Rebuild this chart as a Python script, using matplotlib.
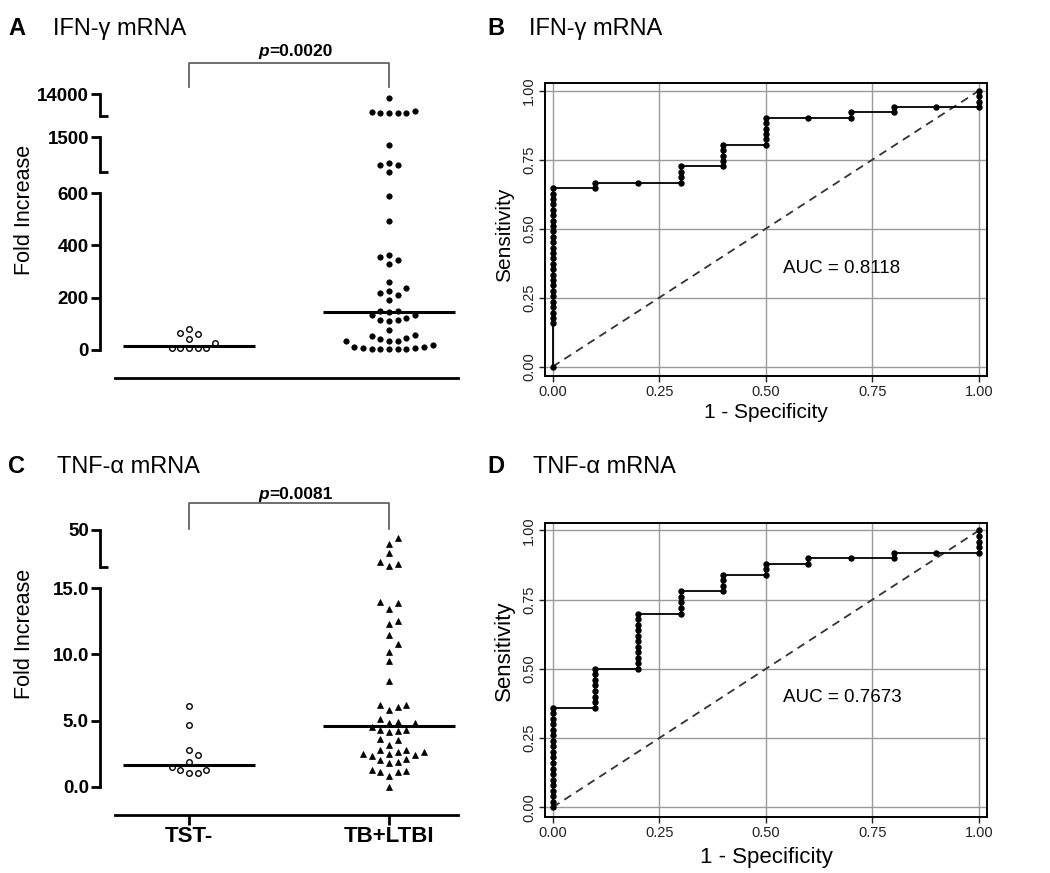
import numpy as np
import matplotlib
matplotlib.use("Agg")
import matplotlib.pyplot as plt
from matplotlib import rcParams
from matplotlib.ticker import FixedLocator, NullLocator
from matplotlib.transforms import blended_transform_factory

rcParams["font.family"] = ["Liberation Sans", "DejaVu Sans"]

# ---- data ----
groups = ["TST-", "TB+LTBI"]

# IFN-gamma fold increase (panel A)
ifn_tst = [79, 64, 61, 41, 28, 6, 6, 6, 6, 6]
ifn_tb = [11660, 4250, 2900, 2900, 2900, 2900, 3500,
          1294, 831, 788, 788, 608,
          587, 492, 362, 354, 344, 327, 259, 238, 225, 217, 211, 191,
          149, 149, 145, 134, 134, 122, 113, 113, 111, 76,
          57, 53, 47, 41, 36,
          34, 13, 9, 5, 5, 5, 5, 5, 9, 10, 18, 36]
ifn_median = [17, 146]

# TNF-alpha fold increase (panel C)
tnf_tst = [6.1, 4.7, 2.8, 2.4, 1.9, 1.5, 1.3, 1.3, 1.05, 1.05]
tnf_tb = [42.0, 36.3, 27.7, 19.8, 17.6, 15.7,
          14.0, 13.9, 13.4, 12.5, 12.3, 11.5, 10.8, 10.2, 9.5, 8.0,
          6.2, 6.2, 6.0, 5.8, 5.1, 4.9, 4.8, 4.8,
          4.5, 4.3, 4.3, 4.2, 4.1, 3.6, 3.5, 3.15,
          2.8, 2.8, 2.6, 2.6, 2.5, 2.5, 2.4,
          2.3, 2.1, 2.0, 1.9, 1.8,
          1.3, 1.2, 1.1, 1.1, 0.8, 0.0]
tnf_median = [1.65, 4.6]

# ROC curves: false positive rate columns and true positive counts at each step
roc_fpr_cols = [0.0, 0.1, 0.2, 0.3, 0.4, 0.5, 0.6, 0.7, 0.8, 0.9, 1.0]
ifn_roc_tp = [[0, 8, 9, 10, 11, 12, 13, 14, 15, 16, 17, 18, 19, 20, 21, 22,
               23, 24, 25, 26, 27, 28, 29, 30, 31, 32, 33],
              [33, 34], [34], [34, 35, 36, 37], [37, 38, 39, 40, 41],
              [41, 42, 43, 44, 45, 46], [46], [46, 47], [47, 48], [48],
              [48, 49, 50, 51]]
ifn_n_pos = 51
ifn_auc = "AUC = 0.8118"

tnf_roc_tp = [[0, 1, 2, 3, 4, 5, 6, 7, 8, 9, 10, 11, 12, 13, 14, 15, 16, 17, 18],
              [18, 19, 20, 21, 22, 23, 24, 25],
              [25, 26, 27, 28, 29, 30, 31, 32, 33, 34, 35],
              [35, 36, 37, 38, 39], [39, 40, 41, 42], [42, 43, 44],
              [44, 45], [45], [45, 46], [46], [46, 47, 48, 49, 50]]
tnf_n_pos = 50
tnf_auc = "AUC = 0.7673"

# ---- figure in pixel layout ----
W, H = 1050, 873
fig = plt.figure(figsize=(W / 100, H / 100), dpi=100)


def px_axes(left, top, right, bottom):
    return fig.add_axes([left / W, 1 - bottom / H, (right - left) / W, (bottom - top) / H])


def fig_y(py):
    return 1 - py / H


def swarm(ax, center, vals, step=8.7, dmin=8.0):
    # greedy beeswarm in display pixels, slots at whole steps around the centre
    vals = np.asarray(vals, dtype=float)
    pts = ax.transData.transform(np.column_stack([np.full(len(vals), center), vals]))
    ys = pts[:, 1]
    placed = []
    xoff = np.zeros(len(vals))
    for i in np.argsort(ys, kind="stable"):
        for k in [0, 1, -1, 2, -2, 3, -3, 4, -4, 5, -5, 6, -6, 7, -7]:
            x = k * step
            if all((x - px) ** 2 + (ys[i] - py) ** 2 >= dmin ** 2 for px, py in placed):
                break
        placed.append((x, ys[i]))
        xoff[i] = x
    unit = ax.transData.transform([[1, 0]])[0, 0] - ax.transData.transform([[0, 0]])[0, 0]
    return center + xoff / unit


def seg_axes(top, bottom, ylo, yhi, ticks, labels, end_tick=True):
    ax = px_axes(100, top, 458, bottom)
    ax.set_xlim(-0.445, 1.345)
    ax.set_ylim(ylo, yhi)
    ax.patch.set_visible(False)
    for s in ("top", "right", "bottom"):
        ax.spines[s].set_visible(False)
    ax.spines["left"].set_linewidth(2.0)
    ax.xaxis.set_major_locator(NullLocator())
    ax.set_yticks(ticks, labels)
    if end_tick:
        ax.yaxis.set_minor_locator(FixedLocator([ylo]))
    ax.tick_params(axis="y", which="major", direction="out", length=6.5, width=2.0,
                   labelsize=13.5, pad=1.5)
    ax.tick_params(axis="y", which="minor", direction="in", length=5.5, width=2.0)
    for lab in ax.get_yticklabels():
        lab.set_fontweight("bold")
    return ax


def scatter_panel(segments, data, medians, markers, bracket_px, ptext, ptext_y, xlabels):
    axes = [seg_axes(*s) for s in segments]
    base = axes[0]
    # every group split across the axis segments
    for gi, vals in enumerate(data):
        vals = np.asarray(vals, dtype=float)
        for si, ax in enumerate(axes):
            lo, hi = segments[si][2], segments[si][3]
            if si == 0:
                sel = vals <= hi
            else:
                sel = (vals > lo) & (vals <= hi)
            if not sel.any():
                continue
            xs = swarm(ax, gi, vals[sel])
            m = markers[gi]
            ax.plot(xs, vals[sel], linestyle="none", marker=m["marker"], markersize=m["ms"],
                    markerfacecolor=m["fc"], markeredgecolor="black", markeredgewidth=m["mew"],
                    clip_on=False, zorder=3)
        base.plot([gi - 0.33, gi + 0.33], [medians[gi], medians[gi]], color="black",
                  linewidth=2.2, solid_capstyle="butt", zorder=4)
    # x axis line pushed below the data
    base.spines["bottom"].set_visible(True)
    base.spines["bottom"].set_linewidth(2.0)
    base.spines["bottom"].set_position(("outward", 20.5))
    base.spines["bottom"].set_bounds(-0.37, 1.345)
    if xlabels:
        base.set_xticks([0, 1], xlabels)
        base.tick_params(axis="x", direction="out", length=7, width=2.0, labelsize=16, pad=0.5)
        for lab in base.get_xticklabels():
            lab.set_fontweight("bold")
    # significance bracket
    top_ax = axes[-1]
    tr = blended_transform_factory(top_ax.transData, fig.transFigure)
    y_bar, y_leg = bracket_px
    top_ax.plot([0, 0, 1, 1], [fig_y(y_leg), fig_y(y_bar), fig_y(y_bar), fig_y(y_leg)],
                transform=tr, color="#555555", linewidth=1.2, clip_on=False)
    top_ax.text(0.4, fig_y(ptext_y), "p", transform=tr, ha="right", va="baseline",
                fontsize=12.5, fontweight="bold", fontstyle="italic")
    top_ax.text(0.4, fig_y(ptext_y), ptext, transform=tr, ha="left", va="baseline",
                fontsize=12.5, fontweight="bold")
    return axes


circle = dict(marker="o", ms=4.0, fc="white", mew=1.0)
dot = dict(marker="o", ms=3.9, fc="black", mew=0.5)
tri = dict(marker="^", ms=4.6, fc="black", mew=0.5)

# Panel A: IFN-gamma scatter on three axis segments
scatter_panel(
    [(193, 350, 0, 600, [0, 200, 400, 600], ["0", "200", "400", "600"], False),
     (137, 172, 600, 1500, [1500], ["1500"]),
     (94.3, 115.7, 1500, 14000, [14000], ["14000"])],
    [ifn_tst, ifn_tb], ifn_median, [circle, dot], (63, 87), "=0.0020", 56, None)

# Panel C: TNF-alpha scatter on two axis segments
scatter_panel(
    [(588.3, 786.7, 0, 15, [0, 5, 10, 15], ["0.0", "5.0", "10.0", "15.0"], False),
     (530, 566.7, 15, 50, [50], ["50"])],
    [tnf_tst, tnf_tb], tnf_median, [circle, tri], (503.3, 529), "=0.0081", 499, groups)

fig.text(25 / W, fig_y(210), "Fold Increase", rotation=90, ha="center", va="center", fontsize=15.5)
fig.text(25 / W, fig_y(634), "Fold Increase", rotation=90, ha="center", va="center", fontsize=15.5)


# ROC panels B and D
def roc_panel(top, bottom, tp_cols, n_pos, auc, auc_y):
    ax = px_axes(545, top, 987, bottom)
    fpr = []
    tpr = []
    for f, tps in zip(roc_fpr_cols, tp_cols):
        for t in tps:
            fpr.append(f)
            tpr.append(t / n_pos)
    ax.plot([0, 1], [0, 1], linestyle=(0, (4.5, 3.2)), color="#333333", linewidth=1.3, zorder=2)
    ax.plot(fpr, tpr, color="black", linewidth=1.3, marker="o", markersize=3.6, zorder=3)
    ax.set_xlim(-0.018, 1.019)
    ax.set_ylim(-0.034, 1.028)
    ticks = [0, 0.25, 0.5, 0.75, 1.0]
    tlabels = ["0.00", "0.25", "0.50", "0.75", "1.00"]
    ax.set_xticks(ticks, tlabels)
    ax.set_yticks(ticks, tlabels)
    for lab in ax.get_yticklabels():
        lab.set_rotation(90)
        lab.set_va("center")
    ax.tick_params(direction="out", length=4, width=1.0, labelsize=10.5, pad=2.5, colors="#222222")
    ax.grid(color="#9a9a9a", linewidth=1.0)
    ax.set_axisbelow(True)
    for s in ax.spines.values():
        s.set_linewidth(1.4)
    ax.text(0.54, auc_y, auc, fontsize=13.5, va="center", ha="left")
    return ax


roc_panel(83, 376, ifn_roc_tp, ifn_n_pos, ifn_auc, 0.357)
roc_panel(522.7, 816.7, tnf_roc_tp, tnf_n_pos, tnf_auc, 0.396)

fig.text(505 / W, fig_y(235), "Sensitivity", rotation=90, ha="center", va="center", fontsize=15)
fig.text(504 / W, fig_y(651), "Sensitivity", rotation=90, ha="center", va="center", fontsize=16)
fig.text(766 / W, fig_y(412), "1 - Specificity", ha="center", va="center", fontsize=15)
fig.text(766 / W, fig_y(857), "1 - Specificity", ha="center", va="center", fontsize=16)

# panel headings
heads = [(8, 35, "A", 53, "IFN-\u03b3 mRNA"), (487, 35, "B", 529, "IFN-\u03b3 mRNA"),
         (8, 473, "C", 57, "TNF-\u03b1 mRNA"), (487, 473, "D", 533, "TNF-\u03b1 mRNA")]
for lx, ly, letter, tx, title in heads:
    fig.text(lx / W, fig_y(ly), letter, fontsize=17, fontweight="bold", va="baseline")
    fig.text(tx / W, fig_y(ly), title, fontsize=17, va="baseline")

fig.savefig("out.png", dpi=100)
